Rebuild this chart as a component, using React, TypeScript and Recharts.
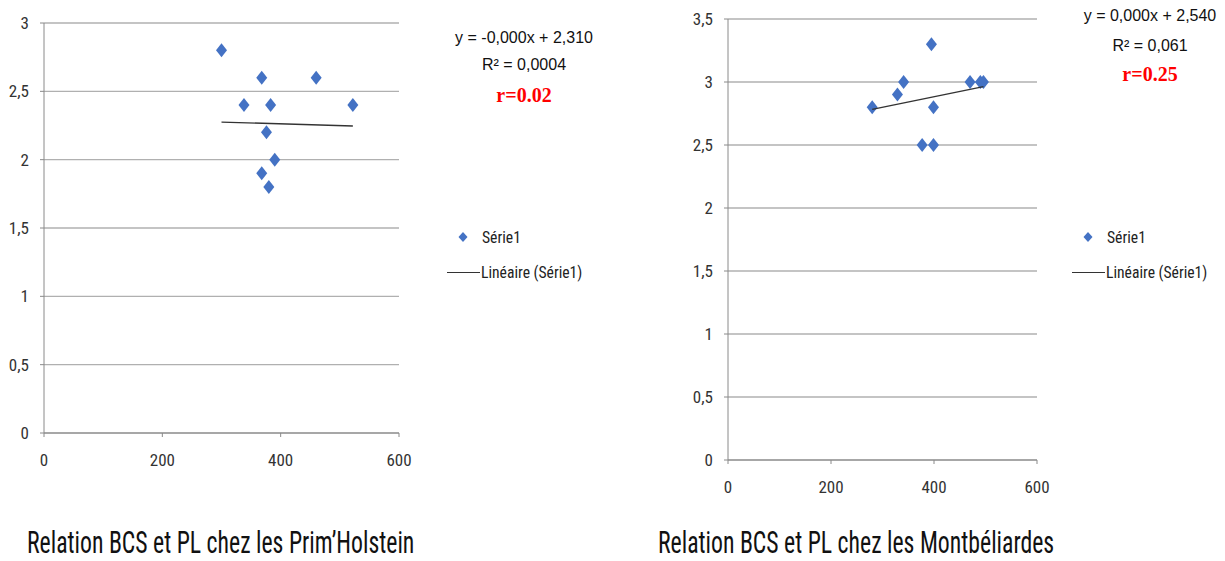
import React from "react";
import { ScatterChart, Scatter, XAxis, YAxis, CartesianGrid } from "recharts";

// Prim'Holstein : PL (x) vs BCS (y)
const holsteinPL = [300, 368, 460, 338, 383, 522, 376, 390, 368, 380];
const holsteinBCS = [2.8, 2.6, 2.6, 2.4, 2.4, 2.4, 2.2, 2.0, 1.9, 1.8];
const holsteinTrendPL = [300, 522];
const holsteinTrendBCS = [2.275, 2.246];
const holsteinYTicks = [0, 0.5, 1, 1.5, 2, 2.5, 3];

// Montbéliardes
const montbPL = [280, 329, 341, 395, 399, 377, 399, 470, 490, 496];
const montbBCS = [2.8, 2.9, 3.0, 3.3, 2.8, 2.5, 2.5, 3.0, 3.0, 3.0];
const montbTrendPL = [280, 496];
const montbTrendBCS = [2.783, 2.963];
const montbYTicks = [0, 0.5, 1, 1.5, 2, 2.5, 3, 3.5];

const xTicks = [0, 200, 400, 600];

const holsteinEq = ["y = -0,000x + 2,310", "R² = 0,0004", "r=0.02"];
const montbEq = ["y = 0,000x + 2,540", "R² = 0,061", "r=0.25"];
const legendLabels = ["Série1", "Linéaire (Série1)"];
const captions = ["Relation BCS et PL chez les Prim’Holstein", "Relation BCS et PL chez les Montbéliardes"];

const BLUE = "#4472C4";
const NARROW = "'Liberation Sans Narrow', 'Arial Narrow', 'Roboto Condensed', sans-serif";

const toPoints = (xs: number[], ys: number[]) => xs.map((x, i) => ({ x, y: ys[i] }));

const Diamond = (props: any) => {
  const { cx, cy } = props;
  if (cx == null || cy == null) return <g />;
  return <polygon points={`${cx},${cy - 7} ${cx + 5.5},${cy} ${cx},${cy + 7} ${cx - 5.5},${cy}`} fill={BLUE} />;
};

const fmt = (v: number) => String(v).replace(".", ",");

type PanelProps = {
  left: number;
  top: number;
  width: number;
  height: number;
  margin: { top: number; right: number; left: number; bottom: number };
  xAxisHeight: number;
  yTicks: number[];
  points: { x: number; y: number }[];
  trend: { x: number; y: number }[];
};

function Panel(p: PanelProps) {
  const yMax = p.yTicks[p.yTicks.length - 1];
  const tickStyle = { fontFamily: NARROW, fontSize: 17, fill: "#333" };
  return (
    <div style={{ position: "absolute", left: p.left, top: p.top }}>
      <ScatterChart width={p.width} height={p.height} margin={p.margin}>
        <CartesianGrid vertical={false} stroke="#b0b0b0" strokeWidth={1.3} />
        <XAxis
          type="number"
          dataKey="x"
          domain={[0, 600]}
          ticks={xTicks}
          height={p.xAxisHeight}
          tickSize={4}
          tickMargin={17}
          stroke="#8a8a8a"
          tick={tickStyle}
        />
        <YAxis
          type="number"
          dataKey="y"
          domain={[0, yMax]}
          ticks={p.yTicks}
          width={40}
          tickSize={4}
          tickMargin={11}
          stroke="#8a8a8a"
          tick={tickStyle}
          tickFormatter={fmt}
        />
        <Scatter data={p.points} shape={<Diamond />} isAnimationActive={false} />
        <Scatter
          data={p.trend}
          line={{ stroke: "#333", strokeWidth: 1.4 }}
          shape={() => <g />}
          isAnimationActive={false}
        />
      </ScatterChart>
    </div>
  );
}

function Legend({ left, top }: { left: number; top: number }) {
  const txt = {
    fontFamily: NARROW,
    fontSize: 17,
    color: "#222",
    lineHeight: "20px",
    whiteSpace: "nowrap" as const,
    transform: "scaleX(0.92)",
    transformOrigin: "left center",
  };
  return (
    <div style={{ position: "absolute", left, top }}>
      <svg width={14} height={14} style={{ position: "absolute", left: 9, top: -7 }}>
        <polygon points="7,2 11.5,7 7,12 2.5,7" fill={BLUE} />
      </svg>
      <div style={{ ...txt, position: "absolute", left: 35, top: -10 }}>{legendLabels[0]}</div>
      <div style={{ position: "absolute", left: 0, top: 35, width: 33, borderTop: "1.4px solid #333" }} />
      <div style={{ ...txt, position: "absolute", left: 34, top: 25 }}>{legendLabels[1]}</div>
    </div>
  );
}

function Equation({ cx, ys, lines }: { cx: number; ys: number[]; lines: string[] }) {
  return (
    <>
      {lines.map((l, i) => (
        <div
          key={i}
          style={{
            position: "absolute",
            left: cx - 100,
            width: 200,
            top: ys[i] - 11,
            lineHeight: "22px",
            textAlign: "center",
            whiteSpace: "nowrap",
            fontFamily: i === 2 ? "'Liberation Serif', 'Times New Roman', serif" : "'Liberation Sans', Arial, sans-serif",
            fontWeight: i === 2 ? 700 : 400,
            fontSize: i === 2 ? 20 : 16,
            color: i === 2 ? "#ff0000" : "#111",
          }}
        >
          {l}
        </div>
      ))}
    </>
  );
}

function Caption({ left, text }: { left: number; text: string }) {
  return (
    <div
      style={{
        position: "absolute",
        left,
        top: 531,
        fontFamily: NARROW,
        fontSize: 31,
        lineHeight: "24px",
        color: "#111",
        whiteSpace: "nowrap",
        transform: "scaleX(0.766)",
        transformOrigin: "left top",
      }}
    >
      {text}
    </div>
  );
}

export default function App() {
  return (
    <div style={{ position: "absolute", left: 0, top: 0, width: 1225, height: 561, background: "#fff", overflow: "hidden" }}>
      <Panel
        left={0}
        top={0}
        width={420}
        height={480}
        margin={{ top: 23, right: 21, left: 4, bottom: 0 }}
        xAxisHeight={47}
        yTicks={holsteinYTicks}
        points={toPoints(holsteinPL, holsteinBCS)}
        trend={toPoints(holsteinTrendPL, holsteinTrendBCS)}
      />
      <Panel
        left={680}
        top={0}
        width={380}
        height={500}
        margin={{ top: 19, right: 23, left: 8, bottom: 0 }}
        xAxisHeight={40}
        yTicks={montbYTicks}
        points={toPoints(montbPL, montbBCS)}
        trend={toPoints(montbTrendPL, montbTrendBCS)}
      />
      <Equation cx={524} ys={[38, 65, 95]} lines={holsteinEq} />
      <Equation cx={1150} ys={[16, 46, 74]} lines={montbEq} />
      <Legend left={447} top={237} />
      <Legend left={1072} top={237} />
      <Caption left={27} text={captions[0]} />
      <Caption left={658} text={captions[1]} />
    </div>
  );
}
